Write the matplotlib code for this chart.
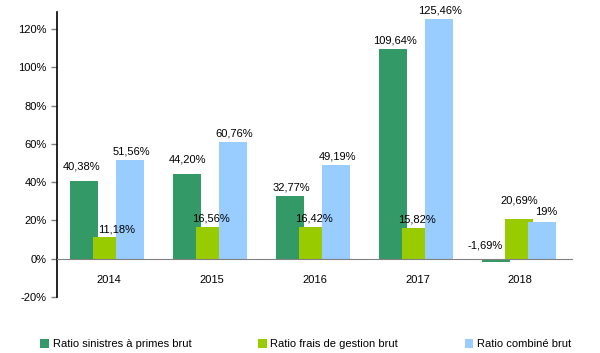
import matplotlib

matplotlib.use("Agg")
import matplotlib.pyplot as plt  # noqa: E402
import numpy as np  # noqa: E402
from matplotlib.ticker import FuncFormatter  # noqa: E402

plt.rcParams["font.family"] = ["Liberation Sans", "DejaVu Sans"]

GREEN = "#339966"
LIME = "#99cc00"
BLUE = "#99ccff"
GREY = "#808080"

years = ["2014", "2015", "2016", "2017", "2018"]
sinistres = [40.38, 44.20, 32.77, 109.64, -1.69]
frais = [11.18, 16.56, 16.42, 15.82, 20.69]
combine = [51.56, 60.76, 49.19, 125.46, 19.0]
series_names = ["Ratio sinistres à primes brut", "Ratio frais de gestion brut",
                "Ratio combiné brut"]


def fmt_pct(v):
    s = f"{v:.2f}".replace(".", ",")
    if s.endswith(",00"):
        s = s[:-3]
    return s + "%"


fig = plt.figure(figsize=(6.0, 3.53), dpi=100)
ax = fig.add_axes([0.095, 0.159, 0.858, 0.807])

x = np.arange(len(years))
offsets = [-0.235, -0.015, 0.21]
width = 0.275
colors = [GREEN, LIME, BLUE]
all_series = [sinistres, frais, combine]

for k, (vals, off, col, name) in enumerate(zip(all_series, offsets, colors, series_names)):
    ax.bar(x + off, vals, width=width, color=col, label=name, zorder=2 + k)

# value labels; (series, year) -> nudge in points where the original sits off the default
nudge = {(0, 0): (-2, 7), (0, 1): (0, 7), (1, 0): (7, 2), (0, 4): (-8, 6),
         (1, 4): (0, 10), (2, 4): (3, 4)}
for k, (vals, off) in enumerate(zip(all_series, offsets)):
    for i, v in enumerate(vals):
        dx, dy = nudge.get((k, i), (1, 2.5))
        ax.annotate(fmt_pct(v), (x[i] + off, max(v, 0)), textcoords="offset points",
                    xytext=(dx, dy), ha="center", va="bottom", fontsize=8, color="#000000",
                    zorder=10)

ax.set_xlim(-0.5, 4.5)
ax.set_ylim(-20, 129)
ax.set_yticks(np.arange(-20, 121, 20))
ax.yaxis.set_major_formatter(FuncFormatter(lambda v, p: f"{v:.0f}%"))

for s in ("top", "right"):
    ax.spines[s].set_visible(False)
ax.spines["left"].set_color("#000000")
ax.spines["left"].set_linewidth(1.2)
ax.spines["bottom"].set_position(("data", 0))
ax.spines["bottom"].set_color(GREY)
ax.spines["bottom"].set_zorder(6)

ax.set_xticks(x)
ax.set_xticklabels(years)
ax.tick_params(axis="x", length=0, pad=12, labelsize=8)
ax.tick_params(axis="y", length=4, width=1, color=GREY, labelsize=8, direction="out")

ax.legend(loc="upper left", bbox_to_anchor=(0.06, 0.052), bbox_transform=fig.transFigure,
          ncol=3, frameon=False, fontsize=8, handlelength=0.8, handleheight=0.8,
          handletextpad=0.3, columnspacing=6.0, borderaxespad=0)

fig.savefig("out.png", dpi=100)
